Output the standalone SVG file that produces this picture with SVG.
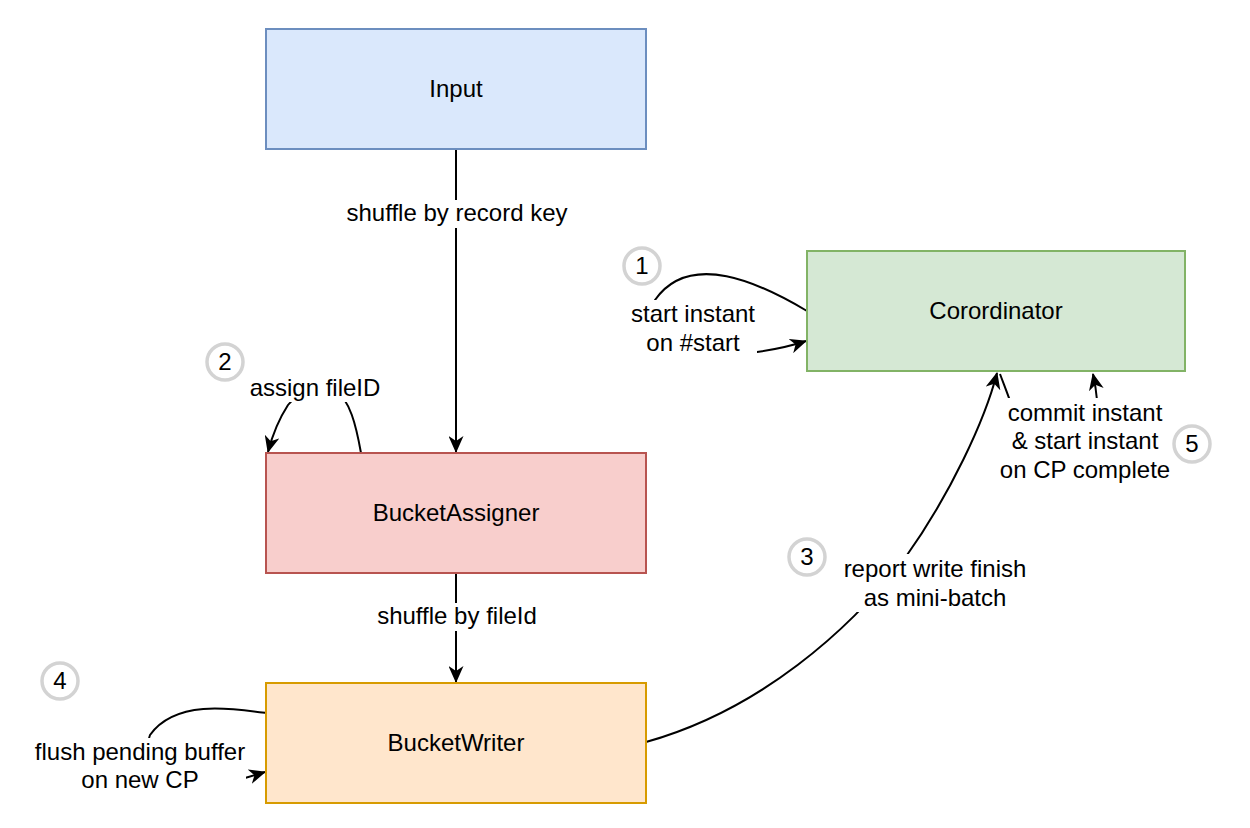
<svg xmlns="http://www.w3.org/2000/svg" width="1250" height="828" viewBox="0 0 1250 828">
<style>
text{font-family:"Liberation Sans",Arial,Helvetica,sans-serif;font-size:24px;fill:#000;text-anchor:middle}
.c{fill:none;stroke:#000;stroke-width:2}
.bg{fill:#fff}
.step{fill:#fff;stroke:#d3d3d3;stroke-width:3.5}
.box{stroke-width:2}
</style>
<defs>
<marker id="ah" viewBox="0 0 17 15" refX="16" refY="7.5" markerWidth="17" markerHeight="15" markerUnits="userSpaceOnUse" orient="auto">
<path d="M0,0 L17,7.5 L0,15 L5,7.5 z" fill="#000"/>
</marker>
</defs>
<rect width="1250" height="828" fill="#fff"/>

<g id="connectors">
<path class="c" d="M456,149 L456,452" marker-end="url(#ah)"/>
<path class="c" d="M456,573 L456,682" marker-end="url(#ah)"/>
<path class="c" d="M807,311 C760,283 690,250 655,300 C640,330 700,360 757,352 Q785,348 806,341" marker-end="url(#ah)"/>
<path class="c" d="M361,453 C356,425 350,400 335,390 C320,382 300,390 288,405 Q275,425 268,452" marker-end="url(#ah)"/>
<path class="c" d="M266,713 C230,708 175,700 150,735 C140,760 200,785 245,778 Q255,775 265,772" marker-end="url(#ah)"/>
<path class="c" d="M646,742 C760,710 850,630 905,558 C950,495 985,420 997,373" marker-end="url(#ah)"/>
<path class="c" d="M1000,374 C1006,390 1010,400 1015,415 C1040,460 1090,430 1097,400 Q1096,388 1093,374" marker-end="url(#ah)"/>
</g>

<g id="labels">
<rect class="bg" x="344" y="200" width="226" height="28"/>
<text x="457" y="221">shuffle by record key</text>
<rect class="bg" x="376" y="603" width="162" height="28"/>
<text x="457" y="624">shuffle by fileId</text>
<rect class="bg" x="629" y="300" width="128" height="58"/>
<text x="693" y="322">start instant</text>
<text x="693" y="351">on #start</text>
<rect class="bg" x="248" y="374" width="135" height="28"/>
<text x="315" y="396">assign fileID</text>
<rect class="bg" x="33" y="738" width="213" height="57"/>
<text x="140" y="760">flush pending buffer</text>
<text x="140" y="788">on new CP</text>
<rect class="bg" x="841" y="554" width="188" height="58"/>
<text x="935" y="577">report write finish</text>
<text x="935" y="606">as mini-batch</text>
<rect class="bg" x="998" y="398" width="175" height="86"/>
<text x="1085" y="421">commit instant</text>
<text x="1085" y="449">&amp; start instant</text>
<text x="1085" y="478">on CP complete</text>
</g>

<g id="input">
<rect class="box" x="266" y="29" width="380" height="120" fill="#dae8fc" stroke="#6c8ebf"/>
<text x="456" y="97">Input</text>
</g>
<g id="bucketassigner">
<rect class="box" x="266" y="453" width="380" height="120" fill="#f8cecc" stroke="#b85450"/>
<text x="456" y="521">BucketAssigner</text>
</g>
<g id="bucketwriter">
<rect class="box" x="266" y="683" width="380" height="120" fill="#ffe6cc" stroke="#d79b00"/>
<text x="456" y="751">BucketWriter</text>
</g>
<g id="coordinator">
<rect class="box" x="807" y="251" width="378" height="120" fill="#d5e8d4" stroke="#82b366"/>
<text x="996" y="319">Corordinator</text>
</g>

<g id="step1"><circle class="step" cx="642" cy="266" r="18"/><text x="642" y="274">1</text></g>
<g id="step2"><circle class="step" cx="225" cy="362" r="18"/><text x="225" y="370">2</text></g>
<g id="step3"><circle class="step" cx="807" cy="557" r="18"/><text x="807" y="565">3</text></g>
<g id="step4"><circle class="step" cx="60" cy="681" r="18"/><text x="60" y="689">4</text></g>
<g id="step5"><circle class="step" cx="1192" cy="444" r="18"/><text x="1192" y="452">5</text></g>
</svg>
